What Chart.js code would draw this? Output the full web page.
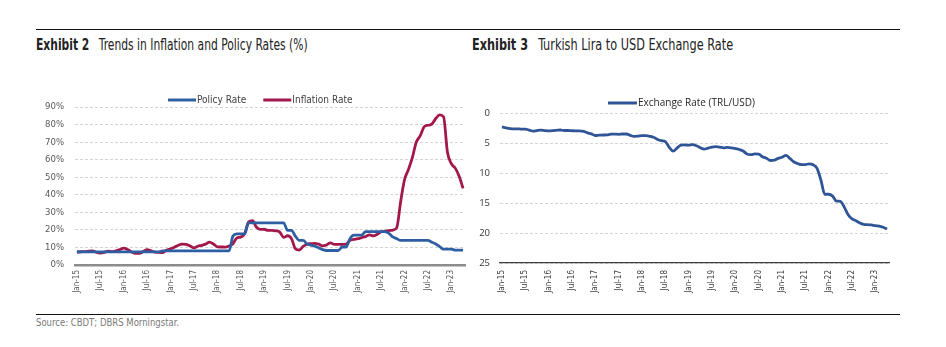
<!DOCTYPE html>
<html>
<head>
<meta charset="utf-8">
<script src="https://cdn.jsdelivr.net/npm/chart.js@4.4.1/dist/chart.umd.min.js"></script>
<style>
  body { margin: 0; background: #fff; width: 946px; height: 347px; position: relative; overflow: hidden;
         font-family: 'Liberation Sans Narrow', 'DejaVu Sans Condensed', sans-serif; }
  .rule { position: absolute; left: 36px; width: 864px; height: 1px; background: #111; }
  .title { position: absolute; top: 36px; font-size: 15.5px; color: #222; white-space: nowrap;
           transform: scaleX(0.77); transform-origin: 0 0; }
  .title b { margin-right: 8px; }
  .source { position: absolute; left: 36px; top: 316px; font-size: 11px; color: #7a7a7a; white-space: nowrap;
            transform: scaleX(0.86); transform-origin: 0 0; }
  canvas { position: absolute; }
</style>
</head>
<body>
<div class="rule" style="top:29px"></div>
<div class="title" style="left:36px"><b>Exhibit 2</b> Trends in Inflation and Policy Rates (%)</div>
<div class="title" style="left:472px;transform:scaleX(0.81)"><b>Exhibit 3</b> Turkish Lira to USD Exchange Rate</div>
<canvas id="ratesChart" width="470" height="215" style="left:0;top:90px"></canvas>
<canvas id="fxChart" width="476" height="215" style="left:470px;top:90px"></canvas>
<div class="rule" style="top:314px"></div>
<div class="source">Source: CBDT; DBRS Morningstar.</div>

<script>
// Monthly categories, Jan-15 through Apr-23
const monthNames = ['Jan', 'Feb', 'Mar', 'Apr', 'May', 'Jun', 'Jul', 'Aug', 'Sep', 'Oct', 'Nov', 'Dec'];
const months = [];
for (let y = 15; y <= 23; y++) {
  for (const m of monthNames) {
    if (months.length < 100) months.push(m + '-' + y);
  }
}

// Policy rate (%)
const policyRate = [
  7.75, 7.5, 7.5, 7.5, 7.5, 7.5, 7.5, 7.5, 7.5, 7.5, 7.5, 7.5,
  7.5, 7.5, 7.5, 7.5, 7.5, 7.5, 7.5, 7.5, 7.5, 7.5, 8, 8,
  8, 8, 8, 8, 8, 8, 8, 8, 8, 8, 8, 8,
  8, 8, 8, 8, 16.5, 17.75, 17.75, 17.75, 24, 24, 24, 24,
  24, 24, 24, 24, 24, 24, 19.75, 19.75, 16.5, 14, 14, 12,
  11.25, 10.75, 9.75, 8.75, 8.25, 8.25, 8.25, 8.25, 10.25, 10.25, 15, 17,
  17, 17, 19, 19, 19, 19, 19, 19, 18, 16, 15, 14,
  14, 14, 14, 14, 14, 14, 14, 13, 12, 10.5, 9, 9,
  9, 8.5, 8.5, 8.5
];

// Annual CPI inflation (%)
const inflationRate = [
  7.24, 7.55, 7.61, 7.91, 8.09, 7.20, 6.81, 7.14, 7.95, 7.58, 8.10, 8.81,
  9.58, 8.78, 7.46, 6.57, 6.58, 7.64, 8.79, 8.05, 7.28, 7.16, 7.00, 8.53,
  9.22, 10.13, 11.29, 11.87, 11.72, 10.90, 9.79, 10.68, 11.20, 11.90, 12.98, 11.92,
  10.35, 10.26, 10.23, 10.85, 12.15, 15.39, 15.85, 17.90, 24.52, 25.24, 21.62, 20.30,
  20.35, 19.67, 19.71, 19.50, 18.71, 15.72, 16.65, 15.01, 9.26, 8.55, 10.56, 11.84,
  12.15, 12.37, 11.86, 10.94, 11.39, 12.62, 11.76, 11.77, 11.75, 11.89, 14.03, 14.60,
  14.97, 15.61, 16.19, 17.14, 16.59, 17.53, 18.95, 19.25, 19.58, 19.89, 21.31, 36.08,
  48.69, 54.44, 61.14, 69.97, 73.50, 78.62, 79.60, 80.21, 83.45, 85.51, 84.39, 64.27,
  57.68, 55.18, 50.51, 43.68
];

// TRL per USD
const exchangeRate = [
  2.33, 2.46, 2.59, 2.66, 2.63, 2.70, 2.70, 2.84, 3.02, 2.92, 2.86, 2.92,
  2.98, 2.95, 2.89, 2.83, 2.92, 2.92, 2.96, 2.97, 2.97, 3.07, 3.30, 3.49,
  3.75, 3.69, 3.67, 3.64, 3.53, 3.51, 3.55, 3.50, 3.50, 3.73, 3.91, 3.84,
  3.77, 3.78, 3.88, 4.05, 4.41, 4.62, 4.77, 5.71, 6.37, 5.84, 5.35, 5.31,
  5.37, 5.28, 5.45, 5.79, 6.03, 5.85, 5.68, 5.62, 5.69, 5.80, 5.74, 5.81,
  5.93, 6.08, 6.33, 6.83, 6.94, 6.82, 6.86, 7.31, 7.53, 7.92, 7.87, 7.56,
  7.38, 7.06, 7.57, 8.13, 8.42, 8.61, 8.60, 8.48, 8.64, 9.22, 11.18, 13.55,
  13.54, 13.85, 14.68, 14.72, 15.68, 16.97, 17.64, 17.95, 18.33, 18.57, 18.62, 18.66,
  18.78, 18.84, 19.05, 19.34
];

const rateTicks = [0, 10, 20, 30, 40, 50, 60, 70, 80, 90];
const fxTicks = [0, 5, 10, 15, 20, 25];

const narrow = "'Liberation Sans Narrow', 'DejaVu Sans Condensed', sans-serif";

// Line-sample legend drawn above the plot
const lineLegend = {
  id: 'lineLegend',
  afterDraw(chart, args, opts) {
    const ctx = chart.ctx;
    ctx.save();
    ctx.font = opts.font;
    ctx.textBaseline = 'middle';
    let x = opts.x;
    chart.data.datasets.forEach(ds => {
      ctx.strokeStyle = ds.borderColor;
      ctx.lineWidth = 3;
      ctx.beginPath();
      ctx.moveTo(x, opts.y);
      ctx.lineTo(x + opts.lineLength, opts.y);
      ctx.stroke();
      x += opts.lineLength + 1;
      ctx.fillStyle = opts.color;
      ctx.fillText(ds.label, x, opts.y);
      x += ctx.measureText(ds.label).width + opts.gap;
    });
    ctx.restore();
  }
};

function everySixth(value, index) {
  return index % 6 === 0 ? months[index] : '';
}

// keep the plot edges where the layout padding puts them
function fixX(height) {
  return s => { s.height = height; s.paddingLeft = 0; s.paddingRight = 0; };
}

new Chart(document.getElementById('ratesChart'), {
  type: 'line',
  data: {
    labels: months,
    datasets: [
      { label: 'Policy Rate', data: policyRate, borderColor: '#2f5fa3', borderWidth: 2.8 },
      { label: 'Inflation Rate', data: inflationRate, borderColor: '#a3184b', borderWidth: 2.8 }
    ]
  },
  plugins: [lineLegend],
  options: {
    responsive: false,
    animation: false,
    layout: { padding: { top: 17, right: 5, left: 0, bottom: 0 } },
    elements: { point: { radius: 0 }, line: { cubicInterpolationMode: 'monotone' } },
    plugins: {
      legend: { display: false },
      tooltip: { enabled: false },
      lineLegend: { x: 168, y: 10, lineLength: 28, gap: 17, font: '10px ' + narrow, color: '#404040' }
    },
    scales: {
      x: {
        offset: true,
        afterFit: fixX(40),
        grid: { display: false, drawTicks: false },
        border: { display: true, color: '#8c8c8c', width: 2.5 },
        ticks: {
          autoSkip: false, minRotation: 90, maxRotation: 90, padding: 5,
          color: '#595959', font: { family: narrow, size: 8 },
          callback: everySixth
        }
      },
      y: {
        min: 0, max: 90,
        afterFit: s => { s.width = 75; },
        afterBuildTicks: s => { s.ticks = rateTicks.map(v => ({ value: v })); },
        grid: { color: '#d4d4d4', lineWidth: 1, drawTicks: false },
        border: { display: false, dash: [3, 2] },
        ticks: {
          padding: 11, color: '#595959', font: { family: narrow, size: 9.5 },
          callback: v => v + '%'
        }
      }
    }
  }
});

new Chart(document.getElementById('fxChart'), {
  type: 'line',
  data: {
    labels: months,
    datasets: [
      { label: 'Exchange Rate (TRL/USD)', data: exchangeRate, borderColor: '#2f5597', borderWidth: 2.8 }
    ]
  },
  plugins: [lineLegend],
  options: {
    responsive: false,
    animation: false,
    layout: { padding: { top: 23, right: 57, left: 0, bottom: 0 } },
    elements: { point: { radius: 0 }, line: { cubicInterpolationMode: 'monotone' } },
    plugins: {
      legend: { display: false },
      tooltip: { enabled: false },
      lineLegend: { x: 138, y: 13, lineLength: 29, gap: 10, font: "10px 'Open Sans', sans-serif", color: '#262626' }
    },
    scales: {
      x: {
        offset: true,
        afterFit: fixX(42),
        grid: { display: false, drawTicks: false },
        border: { display: true, color: '#404040', width: 1.2 },
        ticks: {
          autoSkip: false, minRotation: 90, maxRotation: 90, padding: 7,
          color: '#404040', font: { family: narrow, size: 8 },
          callback: everySixth
        }
      },
      y: {
        reverse: true, min: 0, max: 25,
        afterFit: s => { s.width = 30; },
        afterBuildTicks: s => { s.ticks = fxTicks.map(v => ({ value: v })); },
        grid: { color: '#d4d4d4', lineWidth: 1, drawTicks: false },
        border: { display: false, dash: [3, 2] },
        ticks: { padding: 10, color: '#333', font: { family: "'Open Sans', sans-serif", size: 9.5 } }
      }
    }
  }
});
</script>
</body>
</html>
